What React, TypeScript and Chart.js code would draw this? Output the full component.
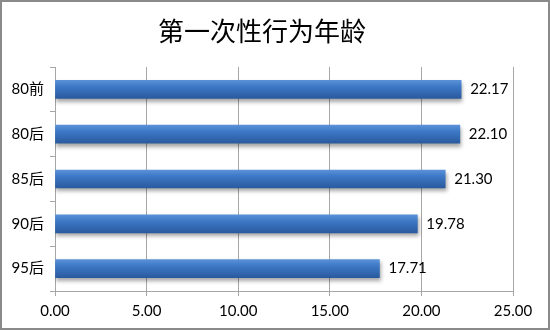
import React, { useEffect, useRef } from "react";
import { Chart, registerables } from "chart.js";

Chart.register(...registerables);

const title = "第一次性行为年龄";
const categories = ["80前", "80后", "85后", "90后", "95后"];
const values = [22.17, 22.1, 21.3, 19.78, 17.71];
const xTicks = [0, 5, 10, 15, 20, 25];

const tickFont = { family: "Lato, 'Noto Sans CJK SC', sans-serif", size: 15 };

export default function App() {
  const ref = useRef<HTMLCanvasElement | null>(null);

  useEffect(() => {
    document.body.style.margin = "0";
    const canvas = ref.current!;
    const bgPlugin = {
      id: "bgTitle",
      beforeDraw(chart: any) {
        const { ctx, width, height } = chart;
        ctx.save();
        ctx.fillStyle = "#ffffff";
        ctx.fillRect(0, 0, width, height);
        ctx.strokeStyle = "#8a8a8a";
        ctx.lineWidth = 2;
        ctx.strokeRect(1, 1, width - 2, height - 2);
        ctx.fillStyle = "#000000";
        ctx.font = "26px 'Noto Sans CJK SC', sans-serif";
        ctx.textAlign = "center";
        ctx.textBaseline = "middle";
        ctx.fillText(title, 262, 31);
        ctx.restore();
      },
      beforeDatasetDraw(chart: any) {
        const ctx = chart.ctx;
        ctx.save();
        ctx.shadowColor = "rgba(0,0,0,0.35)";
        ctx.shadowBlur = 4;
        ctx.shadowOffsetX = 1;
        ctx.shadowOffsetY = 3;
      },
      afterDatasetDraw(chart: any) {
        chart.ctx.restore();
      },
      afterDatasetsDraw(chart: any) {
        const { ctx } = chart;
        const meta = chart.getDatasetMeta(0);
        ctx.save();
        ctx.fillStyle = "#000000";
        ctx.font = "15px Lato, sans-serif";
        ctx.textAlign = "left";
        ctx.textBaseline = "middle";
        meta.data.forEach((bar: any, i: number) => {
          ctx.fillText(values[i].toFixed(2), bar.x + 9, bar.y);
        });
        ctx.restore();
      },
    };

    const chart = new Chart(canvas, {
      type: "bar",
      data: {
        labels: categories,
        datasets: [
          {
            data: values,
            barThickness: 18,
            borderWidth: 0,
            backgroundColor: (c: any) => {
              const chart = c.chart;
              const ys = chart.scales?.y;
              if (!ys || c.dataIndex === undefined) return "#3a72bf";
              const yc = ys.getPixelForValue(c.dataIndex);
              if (!Number.isFinite(yc)) return "#3a72bf";
              const g = chart.ctx.createLinearGradient(0, yc - 9, 0, yc + 9);
              g.addColorStop(0, "#5a92d8");
              g.addColorStop(0.35, "#3d78c6");
              g.addColorStop(1, "#2a5a9e");
              return g;
            },
          },
        ],
      },
      options: {
        indexAxis: "y",
        animation: false,
        responsive: false,
        devicePixelRatio: 1,
        layout: { padding: { top: 67, left: 0, right: 37, bottom: 0 } },
        plugins: {
          legend: { display: false },
          title: { display: false },
          tooltip: { enabled: false },
        },
        scales: {
          x: {
            min: 0,
            max: 25,
            afterBuildTicks: (s: any) => {
              s.ticks = xTicks.map((v) => ({ value: v }));
            },
            afterFit: (s: any) => {
              s.height = 39;
            },
            ticks: {
              callback: (v: any) => Number(v).toFixed(2),
              font: tickFont,
              color: "#000000",
              padding: 6,
              maxRotation: 0,
            },
            grid: {
              color: "#a6a6a6",
              lineWidth: 1,
              tickLength: 5,
              drawTicks: true,
            },
            border: { color: "#a6a6a6", width: 1 },
          },
          y: {
            afterFit: (s: any) => {
              s.width = 55;
            },
            ticks: {
              font: tickFont,
              color: "#000000",
              padding: 6,
            },
            grid: {
              drawOnChartArea: false,
              color: "#a6a6a6",
              tickLength: 5,
              offset: true,
            },
            border: { color: "#a6a6a6", width: 1 },
          },
        },
      },
      plugins: [bgPlugin],
    } as any);

    return () => chart.destroy();
  }, []);

  return (
    <div style={{ width: 550, height: 330 }}>
      <canvas ref={ref} width={550} height={330} style={{ display: "block", width: 550, height: 330 }} />
    </div>
  );
}
